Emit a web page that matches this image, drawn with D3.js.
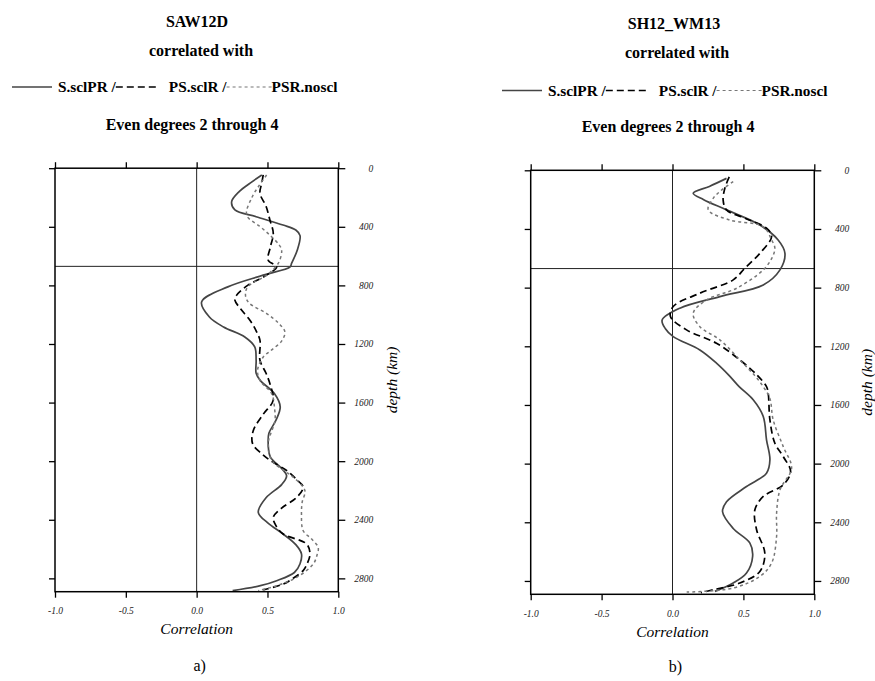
<!DOCTYPE html>
<html><head><meta charset="utf-8">
<script src="https://cdn.jsdelivr.net/npm/d3@7/dist/d3.min.js"></script>
<style>body{margin:0;background:#fff}svg{display:block}</style>
</head><body>
<svg id="c" width="875" height="681"></svg>
<script>
// ---- data ----
const corrTicks = [-1.0, -0.5, 0.0, 0.5, 1.0];
const depthTicks = [0, 400, 800, 1200, 1600, 2000, 2400, 2800];
const depthMax = 2891;
const transitionDepth = 670;
const legendLabels = ["S.sclPR /", "PS.sclR /", "PSR.noscl"];
const panelTitles = ["SAW12D", "SH12_WM13"];
const panelLetters = ["a)", "b)"];

// [depth km, correlation]
const sawS = [[46,0.46],[100,0.38],[160,0.30],[229,0.247],[285,0.27],[331,0.42],[388,0.61],[422,0.70],[460,0.73],[560,0.71],[650,0.67],[673,0.66],[730,0.47],[810,0.22],[913,0.035],[1016,0.09],[1084,0.19],[1152,0.34],[1220,0.41],[1311,0.42],[1400,0.42],[1450,0.45],[1540,0.55],[1630,0.59],[1720,0.56],[1810,0.51],[1880,0.505],[1970,0.52],[2050,0.6],[2100,0.635],[2160,0.6],[2250,0.49],[2349,0.435],[2420,0.5],[2497,0.61],[2570,0.70],[2633,0.74],[2700,0.73],[2760,0.69],[2816,0.565],[2850,0.45],[2884,0.254]];
const sawD = [[46,0.47],[100,0.46],[172,0.447],[260,0.49],[354,0.517],[445,0.541],[540,0.52],[628,0.505],[673,0.565],[730,0.494],[800,0.36],[870,0.28],[901,0.27],[960,0.31],[1038,0.376],[1110,0.42],[1175,0.447],[1311,0.447],[1400,0.49],[1480,0.52],[1585,0.54],[1680,0.47],[1790,0.40],[1881,0.395],[1950,0.46],[1995,0.52],[2064,0.635],[2120,0.70],[2178,0.752],[2247,0.706],[2320,0.6],[2383,0.541],[2440,0.56],[2497,0.611],[2565,0.776],[2633,0.8],[2700,0.78],[2747,0.752],[2800,0.68],[2839,0.611],[2879,0.47]];
const sawP = [[46,0.494],[120,0.44],[200,0.39],[320,0.353],[400,0.45],[457,0.517],[520,0.58],[559,0.60],[650,0.576],[730,0.494],[810,0.36],[870,0.345],[920,0.37],[992,0.494],[1060,0.58],[1118,0.623],[1180,0.60],[1240,0.53],[1289,0.47],[1380,0.43],[1448,0.447],[1540,0.53],[1640,0.55],[1722,0.553],[1881,0.505],[1995,0.53],[2060,0.61],[2109,0.682],[2200,0.764],[2280,0.745],[2360,0.74],[2475,0.752],[2530,0.81],[2588,0.858],[2640,0.85],[2702,0.823],[2793,0.706],[2850,0.565],[2884,0.435]];

const shS = [[55,0.381],[110,0.26],[157,0.146],[200,0.22],[270,0.381],[373,0.616],[475,0.745],[566,0.793],[679,0.758],[782,0.64],[861,0.334],[940,0.052],[1020,-0.073],[1080,-0.05],[1134,0.005],[1225,0.193],[1315,0.31],[1400,0.40],[1475,0.47],[1565,0.569],[1679,0.64],[1838,0.663],[1974,0.687],[2065,0.663],[2156,0.522],[2260,0.381],[2328,0.353],[2442,0.428],[2542,0.546],[2633,0.565],[2746,0.522],[2814,0.428],[2871,0.299]];
const shD = [[45,0.40],[120,0.37],[202,0.357],[270,0.381],[330,0.52],[395,0.663],[452,0.699],[566,0.616],[668,0.51],[747,0.428],[838,0.193],[929,0.005],[998,-0.014],[1088,0.099],[1179,0.31],[1293,0.475],[1400,0.60],[1475,0.663],[1520,0.675],[1702,0.687],[1861,0.722],[1952,0.781],[2054,0.833],[2145,0.781],[2224,0.64],[2315,0.581],[2451,0.593],[2610,0.651],[2735,0.616],[2814,0.475],[2860,0.287],[2880,0.2]];
const shP = [[77,0.428],[140,0.34],[191,0.287],[270,0.252],[339,0.404],[384,0.64],[475,0.699],[531,0.722],[600,0.70],[679,0.64],[804,0.452],[884,0.24],[975,0.146],[1066,0.193],[1156,0.334],[1293,0.475],[1400,0.58],[1475,0.64],[1557,0.687],[1702,0.71],[1884,0.781],[2031,0.84],[2179,0.758],[2338,0.734],[2497,0.734],[2678,0.699],[2769,0.616],[2848,0.428],[2876,0.1]];

// ---- layout ----
const panels = [
  {x0:55, x1:338.3, y0:168.2, y1:591.7, series:[sawS,sawD,sawP], title:panelTitles[0], letter:panelLetters[0],
   tY:[26.7,56,92,130], tX:[197,201,192], legX:12, legLineY:87, corrY:634, letY:671, depthX:391.7},
  {x0:530.7, x1:814.3, y0:170.3, y1:594.3, series:[shS,shD,shP], title:panelTitles[1], letter:panelLetters[1],
   tY:[29.3,58.3,96,132.3], tX:[674,677,668], legX:502, legLineY:90.5, corrY:636.5, letY:672, depthX:866.7}
];
const styles = [
  {stroke:"#454545", w:1.7, dash:null},
  {stroke:"#000", w:1.7, dash:"7,4"},
  {stroke:"#777", w:1.5, dash:"3,3"}
];
const serif = "'Liberation Serif','Times New Roman',serif";
const svg = d3.select("#c");

panels.forEach(p => {
  const x = d3.scaleLinear().domain([-1,1]).range([p.x0,p.x1]);
  const y = d3.scaleLinear().domain([0,depthMax]).range([p.y0,p.y1]);
  const g = svg.append("g");

  // reference lines
  g.append("line").attr("x1",x(0)).attr("x2",x(0)).attr("y1",p.y0).attr("y2",p.y1).attr("stroke","#222").attr("stroke-width",1);
  g.append("line").attr("x1",p.x0).attr("x2",p.x1).attr("y1",y(transitionDepth)).attr("y2",y(transitionDepth)).attr("stroke","#222").attr("stroke-width",1);

  // curves
  const line = d3.line().x(d=>x(d[1])).y(d=>y(d[0])).curve(d3.curveCatmullRom.alpha(0.5));
  p.series.forEach((s,i) => {
    const st = styles[i];
    g.append("path").attr("d",line(s)).attr("fill","none").attr("stroke",st.stroke)
      .attr("stroke-width",st.w).attr("stroke-dasharray",st.dash);
  });

  // frame
  g.append("rect").attr("x",p.x0).attr("y",p.y0).attr("width",p.x1-p.x0).attr("height",p.y1-p.y0)
    .attr("fill","none").attr("stroke","#000").attr("stroke-width",1.5);

  // axes (tick marks)
  const axT = g.append("g").attr("transform",`translate(0,${p.y0})`).call(d3.axisTop(x).tickValues(corrTicks).tickSize(6).tickFormat(""));
  const axB = g.append("g").attr("transform",`translate(0,${p.y1})`).call(d3.axisBottom(x).tickValues(corrTicks).tickSize(6).tickPadding(10).tickFormat(d=>d.toFixed(1)));
  const axL = g.append("g").attr("transform",`translate(${p.x0},0)`).call(d3.axisLeft(y).tickValues(depthTicks).tickSize(6).tickFormat(""));
  const axR = g.append("g").attr("transform",`translate(${p.x1},0)`).call(d3.axisRight(y).tickValues(depthTicks).tickSize(7).tickFormat(""));
  [axT,axB,axL,axR].forEach(a=>{a.select(".domain").remove(); a.selectAll(".tick line").attr("stroke","#000").attr("stroke-width",1.3);});
  axB.selectAll("text").attr("font-family",serif).attr("font-style","italic").attr("font-size",9.5).attr("fill","#222");

  // depth labels, right-aligned
  g.selectAll("text.dl").data(depthTicks).join("text").attr("class","dl")
    .attr("x",p.x1+35).attr("y",d=>y(d)).attr("dy","0.35em").attr("text-anchor","end")
    .attr("font-family",serif).attr("font-style","italic").attr("font-size",9.5).attr("fill","#222")
    .text(d=>String(d));

  // axis titles
  g.append("text").attr("x",(p.x0+p.x1)/2).attr("y",p.corrY).attr("text-anchor","middle")
    .attr("font-family",serif).attr("font-style","italic").attr("font-size",15.5).text("Correlation");
  g.append("text").attr("transform",`translate(${p.depthX+5},${(p.y0+p.y1)/2}) rotate(-90)`).attr("text-anchor","middle")
    .attr("font-family",serif).attr("font-style","italic").attr("font-size",15.5).text("depth (km)");
  g.append("text").attr("x",(p.x0+p.x1)/2+3).attr("y",p.letY).attr("text-anchor","middle")
    .attr("font-family",serif).attr("font-size",16).text(p.letter);

  // titles
  const tt = (txt,xx,yy)=>g.append("text").attr("x",xx).attr("y",yy).attr("text-anchor","middle")
    .attr("font-family",serif).attr("font-weight","bold").attr("font-size",16).text(txt);
  tt(p.title,p.tX[0],p.tY[0]);
  tt("correlated with",p.tX[1],p.tY[1]);
  tt("Even degrees 2 through 4",p.tX[2],p.tY[3]);

  // legend
  let cx = p.legX;
  const segLen = [40,42,45];
  const gapAfter = [6,11,0];
  const ly = p.legLineY, lb = p.tY[2];
  for (let i=0;i<3;i++){
    const st = styles[i];
    g.append("line").attr("x1",cx).attr("x2",cx+segLen[i]).attr("y1",ly).attr("y2",ly)
      .attr("stroke",st.stroke).attr("stroke-width",st.w*0.75).attr("stroke-dasharray",st.dash);
    cx += segLen[i] + gapAfter[i];
    const t = g.append("text").attr("x",cx).attr("y",lb).attr("font-family",serif).attr("font-weight","bold")
      .attr("font-size",15.3).text(legendLabels[i]);
    cx += t.node().getComputedTextLength();
  }
});
</script>
</body></html>
